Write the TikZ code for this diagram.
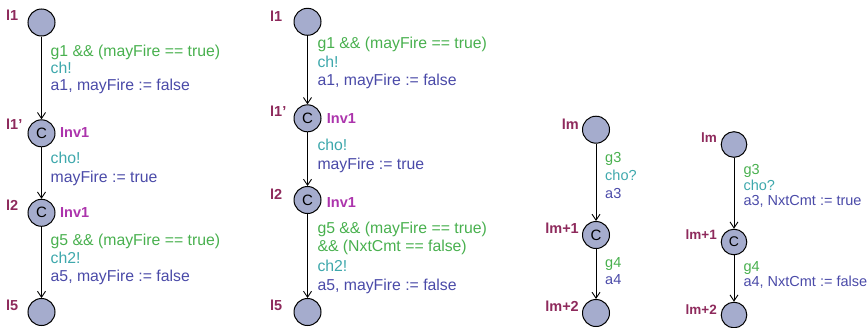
\documentclass[tikz,border=0pt]{standalone}
\usepackage{fontspec}
\setmainfont{Liberation Sans}
\usetikzlibrary{arrows.meta}
\definecolor{locfill}{RGB}{165,172,205}
\definecolor{guardc}{RGB}{72,176,78}
\definecolor{syncc}{RGB}{62,168,172}
\definecolor{updc}{RGB}{74,74,168}
\definecolor{namec}{RGB}{142,42,92}
\definecolor{invc}{RGB}{172,52,172}
\tikzset{
  loc/.style={circle, draw=black, line width=1pt, fill=locfill, minimum size=27pt, inner sep=0pt},
  locs/.style={loc, minimum size=25.6pt},
  com/.style={font=\fontsize{14}{14}\selectfont},
  edge/.style={draw=black, line width=0.8pt, -{Straight Barb[length=6pt,width=8pt,line width=0.9pt]}},
  txt/.style={anchor=west, inner sep=0pt, text height=11pt, text depth=3.4pt, font=\fontsize{15.8}{17}\selectfont},
  txts/.style={txt, text height=10pt, text depth=3pt, font=\fontsize{14.5}{16}\selectfont},
  gd/.style={text=guardc},
  sy/.style={text=syncc},
  up/.style={text=updc},
  lname/.style={inner sep=0pt, text=namec, font=\bfseries\fontsize{14.5}{15}\selectfont},
  lnames/.style={lname, font=\bfseries\fontsize{13.5}{14}\selectfont},
  inv/.style={anchor=west, inner sep=0pt, text=invc, font=\bfseries\fontsize{14.5}{15}\selectfont}
}
\begin{document}
\begin{tikzpicture}[x=1pt,y=-1pt]
\useasboundingbox (0,0) rectangle (867,327);
% ---------- Panel 1 ----------
\node[loc] (a1) at (41.5,22.5) {};
\node[loc] (a2) at (41.5,133.3) {\fontsize{15}{15}\selectfont C};
\node[loc] (a3) at (41.5,212.8) {\fontsize{15}{15}\selectfont C};
\node[loc] (a4) at (41.5,312) {};
\draw[edge] (a1) -- (a2);
\draw[edge] (a2) -- (a3);
\draw[edge] (a3) -- (a4);
\node[lname, anchor=west] (a1n) at (6,15) {l1};
\node[lname, anchor=west] (a2n) at (6,124) {l1’};
\node[lname, anchor=west] (a3n) at (6,205) {l2};
\node[lname, anchor=west] (a4n) at (6,305) {l5};
\node[inv] (a2i) at (60,133) {Inv1};
\node[inv] (a3i) at (60,213) {Inv1};
\node[txt,gd] (a1g) at (50.5,52.3) {g1 \&\& (mayFire == true)};
\node[txt,sy] (a1s) at (50.5,70) {ch!};
\node[txt,up] (a1u) at (50.5,87) {a1, mayFire := false};
\node[txt,sy] (a2s) at (50.5,160) {cho!};
\node[txt,up] (a2u) at (50.5,178.3) {mayFire := true};
\node[txt,gd] (a3g) at (50.5,241.7) {g5 \&\& (mayFire == true)};
\node[txt,sy] (a3s) at (50.5,260) {ch2!};
\node[txt,up] (a3u) at (50.5,277.3) {a5, mayFire := false};
% ---------- Panel 2 ----------
\node[loc] (b1) at (307.5,21.8) {};
\node[loc] (b2) at (307.5,118.3) {\fontsize{15}{15}\selectfont C};
\node[loc] (b3) at (307.5,200) {\fontsize{15}{15}\selectfont C};
\node[loc] (b4) at (307.5,312) {};
\draw[edge] (b1) -- (b2);
\draw[edge] (b2) -- (b3);
\draw[edge] (b3) -- (b4);
\node[lname, anchor=west] (b1n) at (270,16.7) {l1};
\node[lname, anchor=west] (b2n) at (270,111.7) {l1’};
\node[lname, anchor=west] (b3n) at (270,194.3) {l2};
\node[lname, anchor=west] (b4n) at (270,305) {l5};
\node[inv] (b2i) at (326.7,118.3) {Inv1};
\node[inv] (b3i) at (326.7,202.3) {Inv1};
\node[txt,gd] (b1g) at (317.3,45) {g1 \&\& (mayFire == true)};
\node[txt,sy] (b1s) at (317.3,63.3) {ch!};
\node[txt,up] (b1u) at (317.3,81.7) {a1, mayFire := false};
\node[txt,sy] (b2s) at (317.3,146.7) {cho!};
\node[txt,up] (b2u) at (317.3,165.7) {mayFire := true};
\node[txt,gd] (b3g) at (317.3,230) {g5 \&\& (mayFire == true)};
\node[txt,gd] (b3h) at (317.3,247.3) {\&\& (NxtCmt == false)};
\node[txt,sy] (b3s) at (317.3,267.7) {ch2!};
\node[txt,up] (b3u) at (317.3,286.7) {a5, mayFire := false};
% ---------- Panel 3 ----------
\node[loc] (c1) at (596,129.7) {};
\node[loc] (c2) at (596,235) {\fontsize{15}{15}\selectfont C};
\node[loc] (c3) at (596,313) {};
\draw[edge] (c1) -- (c2);
\draw[edge] (c2) -- (c3);
\node[lname, anchor=east] (c1n) at (579,124) {lm};
\node[lname, anchor=east] (c2n) at (579,228.3) {lm+1};
\node[lname, anchor=east] (c3n) at (579,306.7) {lm+2};
\node[txts,gd] (c1g) at (605,158.5) {g3};
\node[txts,sy] (c1s) at (605,176.5) {cho?};
\node[txts,up] (c1u) at (605,194.5) {a3};
\node[txts,gd] (c2g) at (605,264) {g4};
\node[txts,up] (c2u) at (605,280.7) {a4};
% ---------- Panel 4 ----------
\node[locs] (d1) at (734,144.5) {};
\node[locs] (d2) at (734,242) {\fontsize{14}{14}\selectfont C};
\node[locs] (d3) at (734,315) {};
\draw[edge] (d1) -- (d2);
\draw[edge] (d2) -- (d3);
\node[lnames, anchor=east] (d1n) at (717,137.3) {lm};
\node[lnames, anchor=east] (d2n) at (717,235) {lm+1};
\node[lnames, anchor=east] (d3n) at (717,309.3) {lm+2};
\node[txts,gd] (d1g) at (743.3,170.7) {g3};
\node[txts,sy] (d1s) at (743.3,187.3) {cho?};
\node[txts,up] (d1u) at (743.3,201.7) {a3, NxtCmt := true};
\node[txts,gd] (d2g) at (743.3,268.3) {g4};
\node[txts,up] (d2u) at (743.3,283.3) {a4, NxtCmt := false};
\end{tikzpicture}
\end{document}
